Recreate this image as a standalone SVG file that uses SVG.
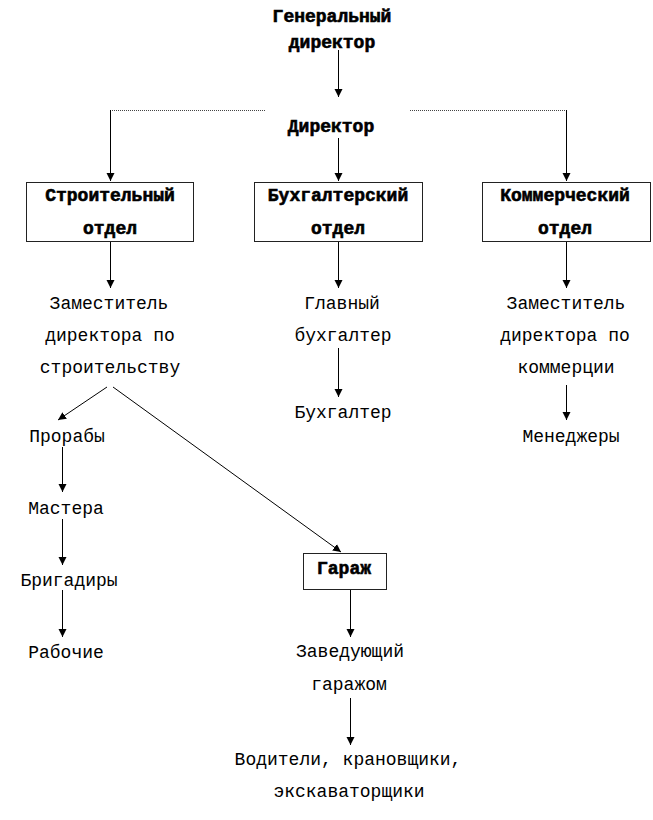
<svg xmlns="http://www.w3.org/2000/svg" width="653" height="820" viewBox="0 0 653 820">
<style>
text{font-family:"Liberation Mono","Courier New",monospace;font-size:18px;fill:#000;text-anchor:middle}
.b{font-weight:bold;stroke:#000;stroke-width:0.6}
.box{fill:#fff;stroke:#222;stroke-width:1}
.c{stroke:#000;stroke-width:1;fill:none}
.h{stroke:#444;stroke-width:1;fill:none;stroke-dasharray:1 1}
</style>
<defs>
<marker id="ar" viewBox="0 0 8 10" refX="8" refY="5" markerWidth="8" markerHeight="10" markerUnits="userSpaceOnUse" orient="auto">
<path d="M0,1 L8,5 L0,9 z" fill="#000"/>
</marker>
</defs>
<rect width="653" height="820" fill="#fff"/>
<g id="connectors">
<line class="c" x1="338.5" y1="50" x2="338.5" y2="97" marker-end="url(#ar)"/>
<line class="h" x1="110" y1="110.5" x2="265" y2="110.5"/>
<line class="h" x1="410" y1="110.5" x2="566" y2="110.5"/>
<line class="c" x1="110.5" y1="110" x2="110.5" y2="181" marker-end="url(#ar)"/>
<line class="c" x1="566.5" y1="110" x2="566.5" y2="181" marker-end="url(#ar)"/>
<line class="c" x1="338.5" y1="138" x2="338.5" y2="181" marker-end="url(#ar)"/>
<line class="c" x1="110.5" y1="242" x2="110.5" y2="288" marker-end="url(#ar)"/>
<line class="c" x1="338.5" y1="242" x2="338.5" y2="288" marker-end="url(#ar)"/>
<line class="c" x1="566.5" y1="242" x2="566.5" y2="288" marker-end="url(#ar)"/>
<line class="c" x1="338.5" y1="348" x2="338.5" y2="397" marker-end="url(#ar)"/>
<line class="c" x1="566.5" y1="385" x2="566.5" y2="420" marker-end="url(#ar)"/>
<line class="c" x1="107" y1="387" x2="58" y2="420" marker-end="url(#ar)"/>
<line class="c" x1="113" y1="387" x2="341" y2="552" marker-end="url(#ar)"/>
<line class="c" x1="62.5" y1="447" x2="62.5" y2="492" marker-end="url(#ar)"/>
<line class="c" x1="62.5" y1="519" x2="62.5" y2="565" marker-end="url(#ar)"/>
<line class="c" x1="62.5" y1="590" x2="62.5" y2="637" marker-end="url(#ar)"/>
<line class="c" x1="350.5" y1="590" x2="350.5" y2="637" marker-end="url(#ar)"/>
<line class="c" x1="350.5" y1="698" x2="350.5" y2="745" marker-end="url(#ar)"/>
</g>
<g id="gen-director">
<text class="b" x="332" y="22">Генеральный</text>
<text class="b" x="332" y="48">директор</text>
</g>
<g id="director">
<text class="b" x="331" y="132">Директор</text>
</g>
<g id="build-dept">
<rect class="box" x="26.5" y="182.5" width="167" height="59"/>
<text class="b" x="110" y="201">Строительный</text>
<text class="b" x="110" y="234">отдел</text>
</g>
<g id="acc-dept">
<rect class="box" x="254.5" y="182.5" width="168" height="59"/>
<text class="b" x="338" y="201">Бухгалтерский</text>
<text class="b" x="338" y="234">отдел</text>
</g>
<g id="com-dept">
<rect class="box" x="482.5" y="182.5" width="168" height="59"/>
<text class="b" x="565" y="201">Коммерческий</text>
<text class="b" x="565" y="234">отдел</text>
</g>
<g id="deputy-build">
<text x="109" y="309">Заместитель</text>
<text x="110" y="341">директора по</text>
<text x="110" y="373">строительству</text>
</g>
<g id="chief-acc">
<text x="342" y="309">Главный</text>
<text x="343" y="341">бухгалтер</text>
</g>
<g id="accountant">
<text x="343" y="418">Бухгалтер</text>
</g>
<g id="deputy-com">
<text x="566" y="309">Заместитель</text>
<text x="565" y="341">директора по</text>
<text x="566" y="373">коммерции</text>
</g>
<g id="managers">
<text x="571" y="442">Менеджеры</text>
</g>
<g id="foremen">
<text x="67" y="442">Прорабы</text>
</g>
<g id="masters">
<text x="66" y="514">Мастера</text>
</g>
<g id="brigadiers">
<text x="69" y="586">Бригадиры</text>
</g>
<g id="workers">
<text x="66" y="658">Рабочие</text>
</g>
<g id="garage">
<rect class="box" x="303.5" y="553.5" width="83" height="36"/>
<text class="b" x="344" y="574">Гараж</text>
</g>
<g id="garage-head">
<text x="350" y="657">Заведующий</text>
<text x="349" y="690">гаражом</text>
</g>
<g id="drivers">
<text x="348" y="765">Водители, крановщики,</text>
<text x="349" y="797">экскаваторщики</text>
</g>
</svg>
